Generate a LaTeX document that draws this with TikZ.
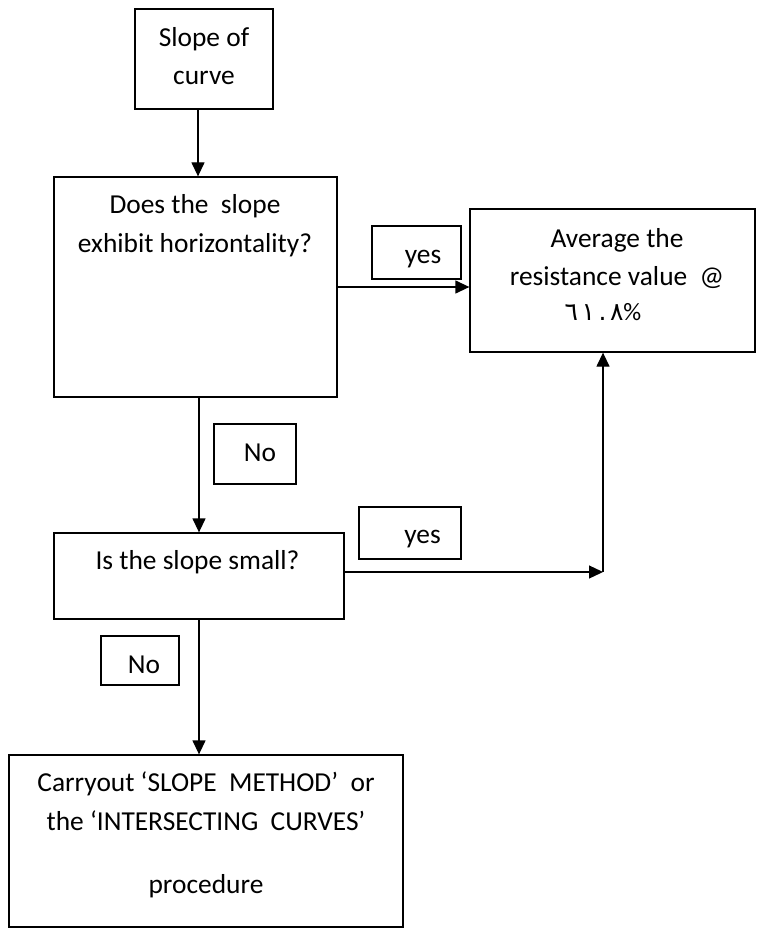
\documentclass[tikz,border=0pt]{standalone}
\usepackage{fontspec}
\setmainfont{Carlito}
\newfontfamily\arabicfont[Script=Arabic, LetterSpace=14]{DejaVu Sans}
\usepackage{tikz}
\usetikzlibrary{arrows.meta,calc,positioning}

\newcommand{\flowfont}{\fontsize{27.4pt}{38pt}\selectfont}

\begin{document}
\begin{tikzpicture}[x=1pt, y=-1pt, >={Triangle[length=14pt,width=13pt]}, line width=1.3pt,
  flowbox/.style={draw, inner sep=0pt},
  txt/.style={anchor=base, font=\flowfont, inner sep=0pt}]
  \useasboundingbox (0,0) rectangle (756,928);
  % main boxes
  \node[flowbox, minimum width=138pt, minimum height=100pt] (curve) at (204,59) {};
  \node[flowbox, minimum width=283pt, minimum height=220pt] (horiz) at (195.5,287) {};
  \node[flowbox, minimum width=285pt, minimum height=143pt] (average) at (612.5,280.5) {};
  \node[flowbox, minimum width=290pt, minimum height=86pt] (small) at (199,576) {};
  \node[flowbox, minimum width=394pt, minimum height=172pt] (method) at (206,841) {};
  % answer boxes
  \node[flowbox, minimum width=89pt, minimum height=53pt] (yesA) at (416.5,252.5) {};
  \node[flowbox, minimum width=102pt, minimum height=52pt] (yesB) at (410,533) {};
  \node[flowbox, minimum width=82pt, minimum height=60pt] (noA) at (255,454) {};
  \node[flowbox, minimum width=78pt, minimum height=49pt] (noB) at (140,660.5) {};
  % texts
  \node[txt] (curveA) at (204,47) {Slope of};
  \node[txt] (curveB) at (204,85) {curve};
  \node[txt] (horizA) at (195,213) {Does the~ slope};
  \node[txt] (horizB) at (195,252) {exhibit horizontality?};
  \node[txt] (averageA) at (617,247) {Average the};
  \node[txt] (averageB) at (617,285) {resistance value~ @};
  \node[txt, font=\fontsize{25pt}{30pt}\selectfont] (averageC) at (603,320) {{\arabicfont ٦١.٨}\%};
  \node[txt] (smallA) at (197.5,569) {Is the slope small?};
  \node[txt] (methodA) at (206,791) {Carryout ‘SLOPE~ METHOD’~ or};
  \node[txt] (methodB) at (206,830) {the ‘INTERSECTING~ CURVES’};
  \node[txt] (methodC) at (206,893) {procedure};
  \node[txt] (yesAt) at (423,263) {yes};
  \node[txt] (yesBt) at (422.5,543) {yes};
  \node[txt] (noAt) at (260,461) {No};
  \node[txt] (noBt) at (144,673) {No};
  % connectors
  \coordinate (bend) at (603,572);
  \draw[->] ([xshift=-6pt]curve.south) -- ([xshift=-6pt]curve.south |- horiz.north);
  \draw[->] (horiz.east) -- (horiz.east -| average.west);
  \draw[->] (small.north |- horiz.south) -- (small.north);
  \draw[->] (small.east |- bend) -- (bend);
  \draw[->] (bend) -- (bend |- average.south);
  \draw[->] (small.south) -- (small.south |- method.north);
\end{tikzpicture}
\end{document}
